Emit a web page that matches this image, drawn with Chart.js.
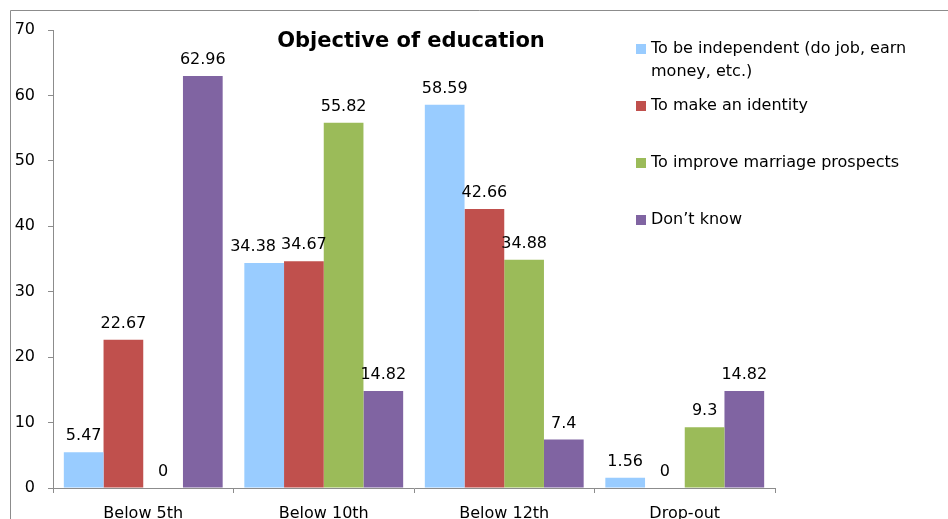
<!DOCTYPE html>
<html>
<head>
<meta charset="utf-8">
<script src="https://cdn.jsdelivr.net/npm/chart.js@4/dist/chart.umd.min.js"></script>
<style>
  html, body { margin: 0; padding: 0; background: #ffffff; }
  #wrap { width: 948px; height: 519px; }
</style>
</head>
<body>
<div id="wrap"><canvas id="c" width="948" height="519"></canvas></div>
<script>
const chartTitle = "Objective of education";
const categories = ["Below 5th", "Below 10th", "Below 12th", "Drop-out"];
const seriesNames = [
  "To be independent (do job, earn\nmoney, etc.)",
  "To make an identity",
  "To improve marriage prospects",
  "Don\u2019t know"
];
const independentValues = [5.47, 34.38, 58.59, 1.56];
const identityValues = [22.67, 34.67, 42.66, 0];
const marriageValues = [0, 55.82, 34.88, 9.3];
const dontKnowValues = [62.96, 14.82, 7.4, 14.82];
const yTicks = [0, 10, 20, 30, 40, 50, 60, 70];

const seriesColors = ["#99CCFF", "#C0504D", "#9BBB59", "#8064A2"];
const seriesValues = [independentValues, identityValues, marriageValues, dontKnowValues];
const FONT = "'DejaVu Sans', Verdana, sans-serif";

const frameAndTitle = {
  id: "frameAndTitle",
  beforeDraw(chart) {
    const ctx = chart.ctx;
    ctx.save();
    ctx.fillStyle = "#ffffff";
    ctx.fillRect(0, 0, chart.width, chart.height);
    ctx.strokeStyle = "#8c8c8c";
    ctx.lineWidth = 1;
    ctx.beginPath();
    ctx.moveTo(10.5, chart.height + 5);
    ctx.lineTo(10.5, 10.5);
    ctx.lineTo(chart.width + 5, 10.5);
    ctx.stroke();
    ctx.restore();
  },
  afterDraw(chart) {
    const ctx = chart.ctx;
    ctx.save();
    // title
    ctx.fillStyle = "#000000";
    ctx.font = "bold 21px " + FONT;
    ctx.textAlign = "center";
    ctx.textBaseline = "middle";
    ctx.fillText(chartTitle, 411, 42);
    // legend
    ctx.font = "16px " + FONT;
    ctx.textAlign = "left";
    ctx.textBaseline = "middle";
    chart.data.datasets.forEach((ds, i) => {
      const y0 = 49 + i * 57;
      ctx.fillStyle = ds.backgroundColor;
      ctx.fillRect(636, y0 - 5, 10, 10);
      ctx.fillStyle = "#000000";
      ds.legendLines.forEach((line, j) => {
        ctx.fillText(line, 651, y0 + j * 23);
      });
    });
    // data labels with simple overlap avoidance (shift left label left)
    ctx.font = "16px " + FONT;
    ctx.textAlign = "center";
    ctx.textBaseline = "alphabetic";
    ctx.fillStyle = "#000000";
    const nCat = chart.data.labels.length;
    for (let k = 0; k < nCat; k++) {
      const items = chart.data.datasets.map((ds, i) => {
        const bar = chart.getDatasetMeta(i).data[k];
        const text = String(ds.data[k]);
        return { text, x: bar.x, y: bar.y - 12, w: ctx.measureText(text).width };
      });
      for (let i = items.length - 2; i >= 0; i--) {
        const a = items[i], b = items[i + 1];
        if (Math.abs(a.y - b.y) < 16) {
          const overlap = (a.x + a.w / 2) - (b.x - b.w / 2) + 5;
          if (overlap > 0) a.x -= overlap;
        }
      }
      items.forEach(it => ctx.fillText(it.text, it.x, it.y));
    }
    ctx.restore();
  }
};

new Chart(document.getElementById("c"), {
  type: "bar",
  data: {
    labels: categories,
    datasets: seriesValues.map((vals, i) => ({
      label: seriesNames[i].replace("\n", " "),
      legendLines: seriesNames[i].split("\n"),
      data: vals,
      backgroundColor: seriesColors[i],
      borderWidth: 0,
      barPercentage: 1.0,
      categoryPercentage: 0.88
    }))
  },
  options: {
    responsive: false,
    animation: false,
    devicePixelRatio: 1,
    layout: { padding: { left: 0, right: 173, top: 30, bottom: 0 } },
    plugins: {
      legend: { display: false },
      title: { display: false },
      tooltip: { enabled: false }
    },
    scales: {
      x: {
        grid: { display: true, drawOnChartArea: false, drawTicks: true, tickLength: 5, color: "#8c8c8c", offset: true },
        border: { display: true, color: "#8c8c8c", width: 1 },
        ticks: { color: "#000000", font: { family: FONT, size: 16 }, padding: 11, maxRotation: 0 },
        afterFit(s) { s.height = 31; }
      },
      y: {
        min: 0,
        max: 70,
        afterBuildTicks(s) { s.ticks = yTicks.map(v => ({ value: v })); },
        grid: { display: true, drawOnChartArea: false, drawTicks: true, tickLength: 5, color: "#8c8c8c" },
        border: { display: true, color: "#8c8c8c", width: 1 },
        ticks: { color: "#000000", font: { family: FONT, size: 16 }, padding: 13 },
        afterFit(s) { s.width = 53; }
      }
    }
  },
  plugins: [frameAndTitle]
});
</script>
</body>
</html>
